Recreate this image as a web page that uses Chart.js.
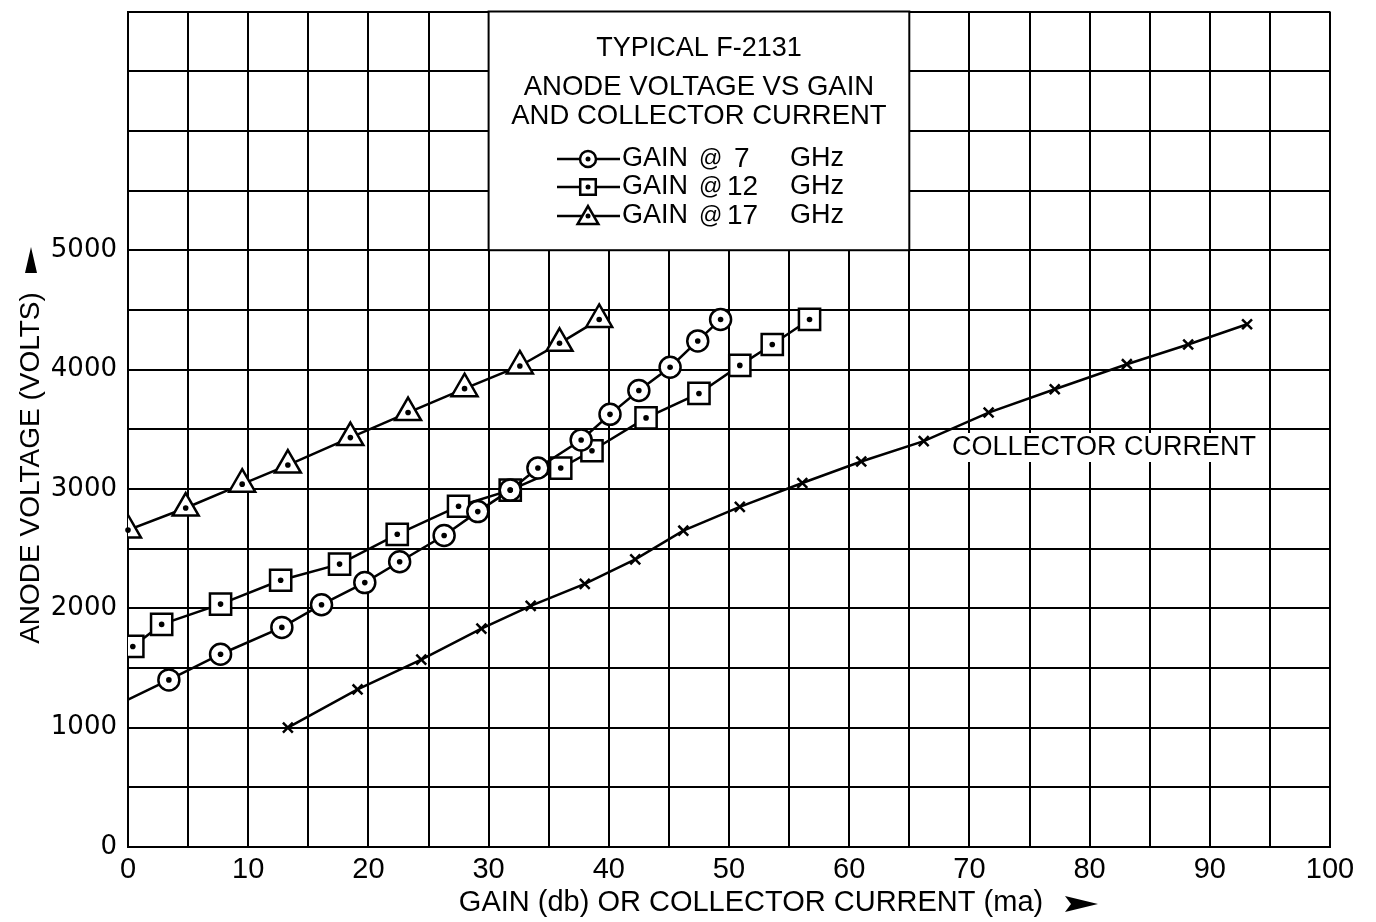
<!DOCTYPE html>
<html>
<head>
<meta charset="utf-8">
<script src="https://cdn.jsdelivr.net/npm/chart.js@4.4.0/dist/chart.umd.min.js"></script>
<style>
  html, body { margin: 0; padding: 0; background: #fff; overflow: hidden; }
  #wrap { width: 1376px; height: 922px; overflow: hidden; }
  #myChart { display: block; margin-top: -6px; }
</style>
</head>
<body>
<div id="wrap"><canvas id="myChart" width="1376" height="928"></canvas></div>
<script>
// gain @ 7 GHz (first point is only the line start, no marker)
var gain7X = [0, 3.4, 7.7, 12.8, 16.1, 19.7, 22.6, 26.3, 29.1, 31.8, 34.1, 37.7, 40.1, 42.5, 45.1, 47.4, 49.3];
var gain7Y = [1235, 1400, 1615, 1840, 2030, 2215, 2390, 2610, 2810, 2990, 3175, 3410, 3625, 3825, 4020, 4240, 4420];

// gain @ 12 GHz
var gain12X = [0.4, 2.8, 7.7, 12.7, 17.6, 22.4, 27.5, 31.8, 36.0, 38.6, 43.1, 47.5, 50.9, 53.6, 56.7];
var gain12Y = [1680, 1865, 2035, 2235, 2370, 2620, 2855, 2990, 3175, 3320, 3595, 3800, 4035, 4210, 4420];

// gain @ 17 GHz
var gain17X = [0, 4.8, 9.5, 13.3, 18.5, 23.3, 28.0, 32.6, 35.9, 39.2];
var gain17Y = [2655, 2840, 3040, 3200, 3430, 3640, 3840, 4030, 4220, 4420];

// collector current (ma)
var currentX = [13.3, 19.1, 24.4, 29.4, 33.5, 38.0, 42.2, 46.2, 50.9, 56.1, 61.0, 66.2, 71.6, 77.1, 83.1, 88.2, 93.1];
var currentY = [1000, 1320, 1570, 1830, 2020, 2205, 2410, 2650, 2850, 3050, 3230, 3400, 3640, 3835, 4045, 4210, 4380];

var xTickLabels = [0, 10, 20, 30, 40, 50, 60, 70, 80, 90, 100];
var yTickLabels = [0, 1000, 2000, 3000, 4000, 5000];

var titleLines = ['TYPICAL F-2131', 'ANODE VOLTAGE VS GAIN', 'AND COLLECTOR CURRENT'];
var legendItems = [
    { style: 'circle', num: '7' },
    { style: 'rect', num: '12' },
    { style: 'triangle', num: '17' }
];

function pts(xs, ys) {
    return xs.map(function(v, i) { return { x: v, y: ys[i] }; });
}

var TXT = '"Liberation Sans", Arial, sans-serif';
var OFF = 6; // canvas is shifted up by 6px in the page

// 흰 박스, 제목, 범례, 축 제목
var decor = {
    id: 'decor',
    beforeDatasetsDraw: function(chart) {
        var ctx = chart.ctx, x = chart.scales.x, y = chart.scales.y;
        var bx0 = x.getPixelForValue(30), bx1 = x.getPixelForValue(65);
        var by0 = y.getPixelForValue(7000), by1 = y.getPixelForValue(5000);
        ctx.save();
        ctx.fillStyle = '#fff';
        ctx.fillRect(bx0, by0, bx1 - bx0, by1 - by0);
        ctx.strokeStyle = '#000';
        ctx.lineWidth = 2;
        ctx.strokeRect(bx0, by0, bx1 - bx0, by1 - by0);

        var cx = (bx0 + bx1) / 2;
        ctx.fillStyle = '#000';
        ctx.textAlign = 'center';
        ctx.textBaseline = 'middle';
        ctx.font = '27px ' + TXT;
        ctx.fillText(titleLines[0], cx, 49 + OFF);
        ctx.font = '27.5px ' + TXT;
        ctx.fillText(titleLines[1], cx, 87 + OFF);
        ctx.fillText(titleLines[2], cx, 116 + OFF);

        // legend
        var rows = [159, 187, 216];
        legendItems.forEach(function(it, i) {
            var ly = rows[i] + OFF;
            ctx.strokeStyle = '#000';
            ctx.lineWidth = 2.5;
            ctx.beginPath();
            ctx.moveTo(557, ly);
            ctx.lineTo(620, ly);
            ctx.stroke();
            ctx.fillStyle = '#fff';
            var r = it.style === 'circle' ? 8 : (it.style === 'rect' ? 11 : 12);
            Chart.helpers.drawPoint(ctx, { pointStyle: it.style, radius: r, rotation: 0, borderWidth: 2.5 }, 588, it.style === 'triangle' ? ly + 2 : ly);
            ctx.fillStyle = '#000';
            ctx.beginPath();
            ctx.arc(588, ly, 2.5, 0, Math.PI * 2);
            ctx.fill();
            ctx.textAlign = 'left';
            ctx.font = '27px ' + TXT;
            ctx.fillText('GAIN', 622, ly);
            ctx.font = '23px ' + TXT;
            ctx.fillText('@', 699, ly + 1);
            ctx.font = '28px ' + TXT;
            ctx.fillText(it.num, it.num.length === 1 ? 734 : 727, ly);
            ctx.font = '27px ' + TXT;
            ctx.fillText('GHz', 790, ly);
        });

        // collector current label
        ctx.fillStyle = '#fff';
        ctx.fillRect(944, 433 + OFF, 318, 29);
        ctx.fillStyle = '#000';
        ctx.textAlign = 'left';
        ctx.font = '27px ' + TXT;
        ctx.fillText('COLLECTOR CURRENT', 952, 448 + OFF);

        // y axis title + arrow
        ctx.save();
        ctx.translate(31, 468 + OFF);
        ctx.rotate(-Math.PI / 2);
        ctx.textAlign = 'center';
        ctx.font = '28px ' + TXT;
        ctx.fillText('ANODE VOLTAGE (VOLTS)', 0, 0);
        ctx.restore();
        ctx.beginPath();
        ctx.moveTo(31, 247 + OFF);
        ctx.lineTo(37, 273 + OFF);
        ctx.lineTo(25, 273 + OFF);
        ctx.closePath();
        ctx.fill();

        // x axis title + arrow
        ctx.textAlign = 'center';
        ctx.font = '29px ' + TXT;
        ctx.fillText('GAIN (db) OR COLLECTOR CURRENT (ma)', 751, 903 + OFF);
        ctx.beginPath();
        ctx.moveTo(1065, 896 + OFF);
        ctx.lineTo(1098, 904 + OFF);
        ctx.lineTo(1065, 912 + OFF);
        ctx.lineTo(1071, 904 + OFF);
        ctx.closePath();
        ctx.fill();
        ctx.restore();
    },
    afterDatasetsDraw: function(chart) {
        var ctx = chart.ctx;
        ctx.save();
        ctx.fillStyle = '#000';
        chart.data.datasets.forEach(function(ds, i) {
            if (!ds.centerDot) return;
            chart.getDatasetMeta(i).data.forEach(function(el, j) {
                var r = Array.isArray(ds.pointRadius) ? ds.pointRadius[j] : ds.pointRadius;
                if (!r) return;
                ctx.beginPath();
                ctx.arc(el.x, el.y, 2.8, 0, Math.PI * 2);
                ctx.fill();
            });
        });
        ctx.restore();
    }
};

var ctx = document.getElementById('myChart').getContext('2d');
var chart = new Chart(ctx, {
    type: 'scatter',
    data: {
        datasets: [{
            label: 'GAIN @ 7 GHz',
            data: pts(gain7X, gain7Y),
            showLine: true,
            borderColor: '#000',
            borderWidth: 2.5,
            pointStyle: 'circle',
            pointRadius: gain7X.map(function(v, i) { return i === 0 ? 0 : 10.5; }),
            pointBackgroundColor: '#fff',
            pointBorderColor: '#000',
            pointBorderWidth: 2.5,
            centerDot: true
        }, {
            label: 'GAIN @ 12 GHz',
            data: pts(gain12X, gain12Y),
            showLine: true,
            borderColor: '#000',
            borderWidth: 2.5,
            pointStyle: 'rect',
            pointRadius: 15,
            pointBackgroundColor: '#fff',
            pointBorderColor: '#000',
            pointBorderWidth: 2.5,
            centerDot: true
        }, {
            label: 'GAIN @ 17 GHz',
            data: pts(gain17X, gain17Y),
            showLine: true,
            borderColor: '#000',
            borderWidth: 2.5,
            pointStyle: 'triangle',
            pointRadius: 15,
            pointBackgroundColor: '#fff',
            pointBorderColor: '#000',
            pointBorderWidth: 2.5,
            centerDot: true
        }, {
            label: 'COLLECTOR CURRENT',
            data: pts(currentX, currentY),
            showLine: true,
            borderColor: '#000',
            borderWidth: 2.5,
            pointStyle: 'crossRot',
            pointRadius: 7,
            pointBorderColor: '#000',
            pointBorderWidth: 2.5
        }]
    },
    options: {
        responsive: false,
        animation: false,
        layout: { padding: { top: 0, right: 46, left: 0, bottom: 0 } },
        plugins: {
            legend: { display: false },
            tooltip: { enabled: false }
        },
        scales: {
            x: {
                type: 'linear',
                min: 0,
                max: 100,
                ticks: {
                    stepSize: 5,
                    autoSkip: false,
                    maxRotation: 0,
                    padding: 6,
                    color: '#000',
                    font: { family: TXT, size: 29 },
                    callback: function(v) { return xTickLabels.indexOf(v) >= 0 ? String(v) : ''; }
                },
                grid: { color: '#000', lineWidth: 2, drawTicks: false },
                border: { color: '#000', width: 2 },
                afterFit: function(scale) {
                    scale.height = 75;
                }
            },
            y: {
                min: 0,
                max: 7000,
                ticks: {
                    stepSize: 500,
                    autoSkip: false,
                    padding: 11,
                    color: '#000',
                    font: { family: '"DejaVu Sans", sans-serif', size: 26, lineHeight: 0.01 },
                    callback: function(v) { return yTickLabels.indexOf(v) >= 0 ? String(v) : ''; }
                },
                grid: { color: '#000', lineWidth: 2, drawTicks: false },
                border: { color: '#000', width: 2 },
                afterFit: function(scale) {
                    scale.width = 128;
                }
            }
        }
    },
    plugins: [decor]
});
</script>
</body>
</html>
